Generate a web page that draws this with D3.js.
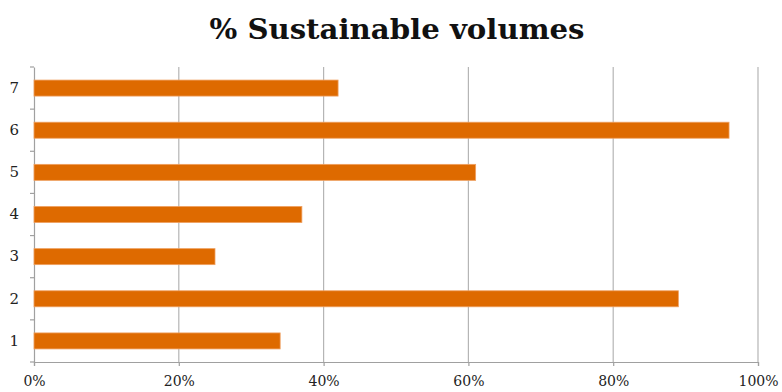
<!DOCTYPE html>
<html><head><meta charset="utf-8">
<script src="https://cdn.jsdelivr.net/npm/d3@7"></script>
<style>body{margin:0;background:#fff}svg{display:block}</style>
</head><body>
<svg id="c" width="782" height="392"></svg>
<script>
const categories = ["1","2","3","4","5","6","7"];
const values = [0.34, 0.89, 0.25, 0.37, 0.61, 0.96, 0.42];
const xTicks = [0, 0.2, 0.4, 0.6, 0.8, 1.0];
const title = "% Sustainable volumes";

(function () {
const svg = d3.select("#c");
const serif = "'DejaVu Serif', 'Liberation Serif', serif";
const mLeft = 34, mRight = 758, mTop = 67, mBottom = 362;
const x = d3.scaleLinear().domain([0, 1]).range([mLeft, mRight]);
const y = d3.scaleBand().domain(categories.slice().reverse()).range([mTop, mBottom]).paddingInner(0.62).paddingOuter(0.31);

const t = svg.append("text").attr("x", 397).attr("y", 39).attr("text-anchor", "middle")
  .style("font-family", serif).attr("font-weight", "bold").attr("font-size", 27)
  .attr("fill", "#111").text(title);
const tw = t.node().getComputedTextLength();
if (Math.abs(tw - 375) > 6) t.attr("textLength", 375).attr("lengthAdjust", "spacingAndGlyphs");

svg.append("g").selectAll("line").data(xTicks.filter(d => d > 0)).join("line")
  .attr("x1", d => x(d)).attr("x2", d => x(d)).attr("y1", mTop).attr("y2", mBottom)
  .attr("stroke", "#b5b5b5").attr("stroke-width", 1.2);

const xa = svg.append("g").attr("transform", `translate(0,${mBottom})`)
  .call(d3.axisBottom(x).tickValues(xTicks).tickFormat(d3.format(".0%")).tickSize(4).tickPadding(10));
xa.select(".domain").attr("stroke", "#a0a0a0").attr("stroke-width", 1.2);
xa.selectAll(".tick line").attr("stroke", "#a0a0a0").attr("stroke-width", 1.2);
xa.selectAll("text").style("font-family", serif).attr("font-size", 14).attr("fill", "#222");

const ya = svg.append("g").attr("transform", `translate(${mLeft},0)`)
  .call(d3.axisLeft(y).tickSize(0).tickPadding(15));
ya.select(".domain").attr("stroke", "#a0a0a0").attr("stroke-width", 1.2);
ya.selectAll("text").style("font-family", serif).attr("font-size", 15).attr("fill", "#222");
const step = y.step();
const bounds = d3.range(categories.length + 1).map(i => mTop + i * step);
svg.append("g").selectAll("line").data(bounds).join("line")
  .attr("x1", mLeft - 4).attr("x2", mLeft).attr("y1", d => d).attr("y2", d => d)
  .attr("stroke", "#a0a0a0").attr("stroke-width", 1.2);

svg.append("g").selectAll("rect").data(categories).join("rect")
  .attr("x", x(0)).attr("y", d => y(d))
  .attr("width", (d, i) => x(values[i]) - x(0)).attr("height", y.bandwidth())
  .attr("fill", "#DE6A00").attr("stroke", "#EFA060").attr("stroke-width", 0.8);
})();
</script>
</body></html>
